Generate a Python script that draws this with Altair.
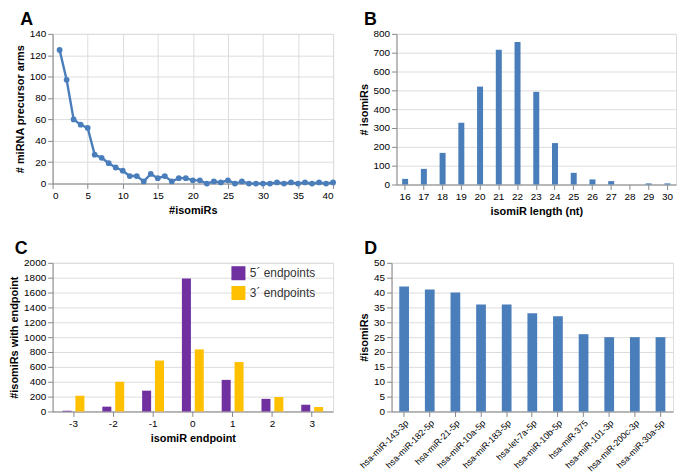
import altair as alt
import pandas as pd

FONT = "Liberation Sans"
BLUE = "#4a7ebb"
PURPLE = "#7030a0"
YELLOW = "#ffc000"

# Panel A
a_isomirs = list(range(1, 41))
a_arms = [125, 97, 60, 55, 52, 27, 24, 19, 15, 12, 7, 7, 2, 9, 5, 7, 2, 5, 5, 3,
          3, 0, 2, 1, 3, 0, 2, 0, 0, 0, 0, 1, 0, 1, 0, 1, 0, 1, 0, 1]
a_xticks = [0, 5, 10, 15, 20, 25, 30, 35, 40]
a_yticks = [0, 20, 40, 60, 80, 100, 120, 140]

# Panel B
b_length = [16, 17, 18, 19, 20, 21, 22, 23, 24, 25, 26, 27, 28, 29, 30]
b_count = [30, 83, 168, 328, 520, 715, 757, 492, 220, 62, 27, 18, 0, 6, 6]
b_yticks = [0, 100, 200, 300, 400, 500, 600, 700, 800]

# Panel C
c_endpoint = [-3, -2, -1, 0, 1, 2, 3]
c_five = [10, 65, 280, 1790, 425, 170, 90]
c_three = [210, 400, 685, 835, 665, 195, 60]
c_series = ["5\u00b4 endpoints", "3\u00b4 endpoints"]
c_yticks = [0, 200, 400, 600, 800, 1000, 1200, 1400, 1600, 1800, 2000]

# Panel D
d_mirs = ["hsa-miR-143-3p", "hsa-miR-182-5p", "hsa-miR-21-5p", "hsa-miR-10a-5p",
          "hsa-miR-183-5p", "hsa-let-7a-5p", "hsa-miR-10b-5p", "hsa-miR-375",
          "hsa-miR-101-3p", "hsa-miR-200c-3p", "hsa-miR-30a-5p"]
d_count = [42, 41, 40, 36, 36, 33, 32, 26, 25, 25, 25]
d_yticks = [0, 5, 10, 15, 20, 25, 30, 35, 40, 45, 50]


def panel_title(letter):
    return alt.TitleParams(letter, anchor="start", fontSize=18, font=FONT,
                           fontWeight="bold", color="#000", offset=0, dx=6)


dfA = pd.DataFrame({"n": a_isomirs, "arms": a_arms})
chartA = alt.Chart(dfA).mark_line(
    color=BLUE, strokeWidth=2.4,
    point=alt.OverlayMarkDef(color=BLUE, size=34, filled=True, opacity=1)
).encode(
    x=alt.X("n:Q", scale=alt.Scale(domain=[0, 40], nice=False),
            axis=alt.Axis(values=a_xticks, title="#isomiRs", grid=True, format="d")),
    y=alt.Y("arms:Q", scale=alt.Scale(domain=[0, 140], nice=False),
            axis=alt.Axis(values=a_yticks, title="# miRNA precursor arms", format="d",
                          ticks=True)),
).properties(width=283, height=151, title=panel_title("A"))

dfB = pd.DataFrame({"len": b_length, "count": b_count})
chartB = alt.Chart(dfB).mark_bar(color=BLUE).encode(
    x=alt.X("len:O", scale=alt.Scale(paddingInner=0.68, paddingOuter=0.3),
            axis=alt.Axis(labelAngle=0, title="isomiR length (nt)")),
    y=alt.Y("count:Q", scale=alt.Scale(domain=[0, 800], nice=False),
            axis=alt.Axis(values=b_yticks, title="# isomiRs", format="d")),
).properties(width=282, height=152, title=panel_title("B"))

rowsC = []
for e, f, t in zip(c_endpoint, c_five, c_three):
    rowsC.append({"endpoint": e, "series": c_series[0], "count": f})
    rowsC.append({"endpoint": e, "series": c_series[1], "count": t})
dfC = pd.DataFrame(rowsC)
chartC = alt.Chart(dfC).mark_bar().encode(
    x=alt.X("endpoint:O", sort=c_endpoint,
            scale=alt.Scale(paddingInner=0.45, paddingOuter=0.25),
            axis=alt.Axis(labelAngle=0, title="isomiR endpoint")),
    xOffset=alt.XOffset("series:N", sort=c_series,
                        scale=alt.Scale(paddingInner=0.3)),
    y=alt.Y("count:Q", scale=alt.Scale(domain=[0, 2000], nice=False),
            axis=alt.Axis(values=c_yticks, title="#isomiRs with endpoint", format="d")),
    color=alt.Color("series:N", sort=c_series,
                    scale=alt.Scale(domain=c_series, range=[PURPLE, YELLOW]),
                    legend=alt.Legend(orient="none", legendX=180, legendY=234,
                                      title=None, symbolType="square",
                                      symbolSize=200, labelFontSize=12,
                                      labelFont=FONT, labelColor="#333",
                                      rowPadding=5, symbolStrokeWidth=0)),
).properties(width=283, height=150, title=panel_title("C"))

dfD = pd.DataFrame({"mir": d_mirs, "count": d_count})
chartD = alt.Chart(dfD).mark_bar(color=BLUE).encode(
    x=alt.X("mir:N", sort=None, scale=alt.Scale(paddingInner=0.62, paddingOuter=0.3),
            axis=alt.Axis(labelAngle=-45, title=None, labelFontSize=9)),
    y=alt.Y("count:Q", scale=alt.Scale(domain=[0, 50], nice=False),
            axis=alt.Axis(values=d_yticks, title="#isomiRs", format="d")),
).properties(width=284, height=150, title=panel_title("D"))

row1 = alt.hconcat(chartA, chartB, spacing=18)
row2 = alt.hconcat(chartC, chartD, spacing=24)

chart = alt.vconcat(row1, row2, spacing=22).properties(padding=0).configure_axis(
    labelFont=FONT, labelFontSize=10, labelColor="#404040",
    titleFont=FONT, titleFontSize=12, titleFontWeight="bold", titleColor="#111",
    titlePadding=2, labelPadding=2, ticks=False,
    gridColor="#dcdcdc", domainColor="#999", tickColor="#999", tickSize=3,
).configure_view(stroke="#e3e3e3").configure(background="white")

chart.save("out.html", embed_options={"renderer": "svg", "actions": False})
